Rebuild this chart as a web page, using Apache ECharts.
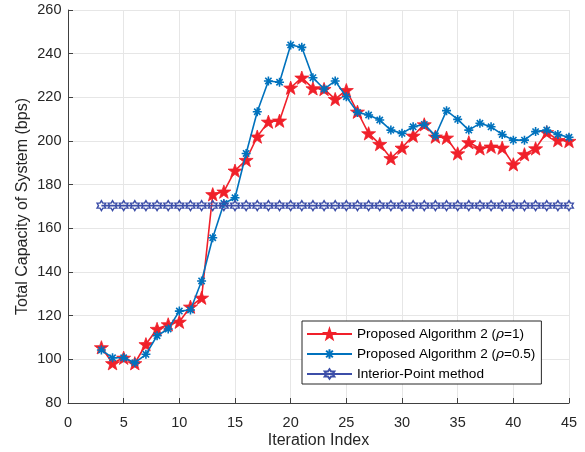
<!DOCTYPE html>
<html>
<head>
<meta charset="utf-8">
<script src="https://cdn.jsdelivr.net/npm/echarts@6/dist/echarts.min.js"></script>
<style>
  html, body { margin: 0; padding: 0; background: #fff; }
  #chart { width: 585px; height: 452px; }
</style>
</head>
<body>
<div id="chart"></div>
<script>
const iterations = [3, 4, 5, 6, 7, 8, 9, 10, 11, 12, 13, 14, 15, 16, 17, 18, 19, 20, 21, 22, 23, 24,
  25, 26, 27, 28, 29, 30, 31, 32, 33, 34, 35, 36, 37, 38, 39, 40, 41, 42, 43, 44, 45]

const rho1 = [105.5, 98.2, 100.7, 98.2, 106.9, 113.9, 116.0, 117.2, 124.1, 128.2, 175.6, 176.8,
  186.4, 191.3, 202.0, 208.8, 209.3, 224.4, 229.0, 224.1, 223.8, 219.2, 223.3, 213.4, 203.5,
  198.6, 192.1, 196.9, 202.4, 207.6, 202.0, 201.5, 194.3, 199.4, 196.6, 197.4, 196.9, 189.3,
  193.9, 196.6, 204.0, 200.4, 200.0]

const rho05 = [104.3, 100.7, 100.7, 98.4, 102.3, 110.8, 113.9, 122.1, 122.6, 135.9, 155.7, 171.4,
  174.0, 194.3, 213.4, 227.5, 226.9, 244.0, 242.9, 229.0, 223.8, 227.5, 220.3, 213.1, 211.9,
  209.6, 205.0, 203.5, 206.5, 207.6, 202.4, 213.9, 209.9, 205.0, 208.1, 206.5, 203.0, 200.4,
  200.4, 204.3, 205.0, 203.0, 201.7]

const interiorPoint = [170.4, 170.4, 170.4, 170.4, 170.4, 170.4, 170.4, 170.4, 170.4, 170.4, 170.4,
  170.4, 170.4, 170.4, 170.4, 170.4, 170.4, 170.4, 170.4, 170.4, 170.4, 170.4, 170.4, 170.4, 170.4,
  170.4, 170.4, 170.4, 170.4, 170.4, 170.4, 170.4, 170.4, 170.4, 170.4, 170.4, 170.4, 170.4, 170.4,
  170.4, 170.4, 170.4, 170.4]

const names = ['rho1', 'rho05', 'ip']

// marker shapes (matlab style p, *, h)
const starPath = 'path://M0,-10 L2.35,-3.24 L9.51,-3.09 L3.8,1.24 L5.88,8.09 L0,4 L-5.88,8.09 L-3.8,1.24 L-9.51,-3.09 L-2.35,-3.24 Z'
const asteriskPath = 'path://M0,-10 L0,10 M-10,0 L10,0 M-7,-7 L7,7 M-7,7 L7,-7'
const hexPath = 'path://M0,-10 L2.89,-5 L8.66,-5 L5.77,0 L8.66,5 L2.89,5 L0,10 L-2.89,5 L-8.66,5 L-5.77,0 L-8.66,-5 L-2.89,-5 Z'

const pairs = (ys) => iterations.map((x, i) => [x, ys[i]])

const axisColor = '#404040'
const textColor = '#262626'
const font = 'Liberation Sans, Arial, sans-serif'

let option = {
  animation: false,
  backgroundColor: '#fff',
  textStyle: { fontFamily: font },
  grid: {
    left: 68,
    right: 16,
    top: 10,
    bottom: 49,
    outerBoundsMode: 'none',
  },
  legend: {
    orient: 'vertical',
    left: 302,
    top: 321,
    padding: [6, 6, 3, 4],
    itemWidth: 45,
    itemHeight: 12,
    itemGap: 6,
    borderColor: '#262626',
    borderWidth: 1,
    backgroundColor: '#fff',
    textStyle: {
      fontFamily: font,
      fontSize: 13.6,
      color: '#000',
      rich: {
        i: { fontFamily: 'DejaVu Serif, serif', fontStyle: 'italic', fontSize: 13.6, color: '#000' },
      },
    },
    formatter: (n) => {
      if (n === 'rho1') return 'Proposed Algorithm 2 ({i|ρ}=1)'
      if (n === 'rho05') return 'Proposed Algorithm 2 ({i|ρ}=0.5)'
      return 'Interior-Point method'
    },
    data: names,
  },
  xAxis: {
    type: 'value',
    min: 0,
    max: 45,
    interval: 5,
    name: 'Iteration Index',
    nameLocation: 'middle',
    nameGap: 30,
    nameMoveOverlap: false,
    nameTextStyle: { fontSize: 16, color: textColor, fontFamily: font },
    axisLine: { lineStyle: { color: axisColor, width: 1 } },
    axisTick: { inside: true, length: 5, lineStyle: { color: axisColor } },
    axisLabel: { fontSize: 14.5, color: textColor, margin: 12, fontFamily: font },
    splitLine: { show: true, lineStyle: { color: '#e6e6e6', width: 1 } },
  },
  yAxis: {
    type: 'value',
    min: 80,
    max: 260,
    interval: 20,
    name: 'Total Capacity of System (bps)',
    nameLocation: 'middle',
    nameGap: 37,
    nameMoveOverlap: false,
    nameTextStyle: { fontSize: 16, color: textColor, fontFamily: font },
    axisLine: { show: true, lineStyle: { color: axisColor, width: 1 } },
    axisTick: { show: true, inside: true, length: 5, lineStyle: { color: axisColor } },
    axisLabel: { fontSize: 14.5, color: textColor, margin: 6.5, fontFamily: font },
    splitLine: { show: true, lineStyle: { color: '#e6e6e6', width: 1 } },
  },
  series: [
    {
      name: 'rho1',
      type: 'line',
      data: pairs(rho1),
      symbol: starPath,
      symbolSize: 14,
      symbolKeepAspect: true,
      lineStyle: { color: '#f0202a', width: 1.6 },
      itemStyle: { color: '#f0202a', borderColor: '#f0202a', borderWidth: 0.8 },
      z: 2,
    },
    {
      name: 'rho05',
      type: 'line',
      data: pairs(rho05),
      symbol: asteriskPath,
      symbolSize: 9,
      symbolKeepAspect: true,
      lineStyle: { color: '#0072bd', width: 1.6 },
      itemStyle: { color: '#0072bd', borderColor: '#0072bd', borderWidth: 1.6 },
      z: 3,
    },
    {
      name: 'ip',
      type: 'line',
      data: pairs(interiorPoint),
      symbol: hexPath,
      symbolSize: 10,
      symbolKeepAspect: true,
      lineStyle: { color: '#3c4ea8', width: 1.6 },
      itemStyle: { color: 'rgba(255,255,255,0)', borderColor: '#3c4ea8', borderWidth: 1.4 },
      z: 4,
    },
  ],
}

const dom = document.getElementById('chart')
const chart = echarts.init(dom)
chart.setOption(option)
</script>
</body>
</html>
